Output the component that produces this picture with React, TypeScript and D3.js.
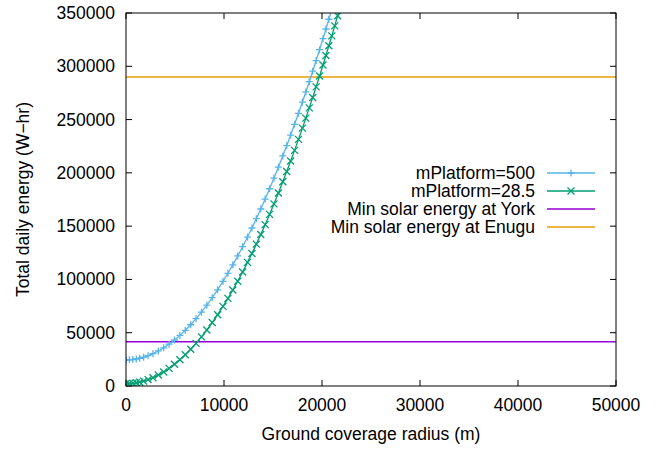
import { useRef, useEffect } from "react"
import * as d3 from "d3"

// ground coverage radius (m) at each sample
const radius = [
    0, 350, 700, 1050, 1400, 1800, 2250, 2750, 3300, 3850,
    4400, 4950, 5500, 6050, 6600, 7150, 7700, 8250, 8800, 9350,
    9900, 10400, 10900, 11400, 11900, 12400, 12850, 13300, 13750, 14200,
    14650, 15100, 15550, 16000, 16400, 16800, 17200, 17600, 18000, 18350,
    18700, 19050, 19400, 19750, 20100, 20400, 20700, 21000, 21300, 21600,
    21900,
]
// total daily energy (W-hr), mPlatform=500
const energy500 = [
    24400, 24540, 24850, 25350, 26030, 27030, 28440, 30350, 32880, 35860,
    39290, 43160, 47490, 52260, 57480, 63150, 69260, 75830, 82840, 90290,
    98200, 105770, 113720, 122030, 130710, 139770, 148240, 157000, 166070, 175430,
    185100, 195060, 205320, 215890, 225530, 235410, 245520, 255870, 266460, 275930,
    285560, 295390, 305390, 315580, 325940, 334970, 344130, 353430, 362860, 372420,
    382110,
]
// total daily energy (W-hr), mPlatform=28.5
const energy285 = [
    2200, 2290, 2560, 3020, 3650, 4600, 5950, 7800, 10260, 13170,
    16530, 20330, 24590, 29290, 34430, 40030, 46070, 52570, 59510, 66890,
    74730, 82240, 90120, 98370, 106990, 115980, 124390, 133100, 142110, 151410,
    161020, 170930, 181130, 191640, 201230, 211060, 221120, 231420, 241960, 251380,
    260970, 270750, 280710, 290850, 301170, 310160, 319280, 328540, 337930, 347450,
    357110,
]
const minYork = 41500
const minEnugu = 290000

const xTicks = [0, 10000, 20000, 30000, 40000, 50000]
const yTicks = [0, 50000, 100000, 150000, 200000, 250000, 300000, 350000]

const seriesNames = ["mPlatform=500", "mPlatform=28.5", "Min solar energy at York", "Min solar energy at Enugu"]
const seriesColors = ["#56b4e9", "#009e73", "#9400d3", "#e69f00"]

export default function App() {
    const svgRef = useRef<SVGSVGElement>(null)
    useEffect(() => {
        const width = 672
        const height = 450
        const fontSize = 17.5
        const svg = d3.select(svgRef.current)
        svg.selectAll("*").remove()
        svg.attr("width", width).attr("height", height)
            .style("display", "block")
            .style("position", "absolute").style("left", "0px").style("top", "0px")
            .style("font-family", "'Liberation Sans', Arial, sans-serif")

        const margin = { top: 13, left: 126, bottom: 64, right: 56 }
        const innerWidth = width - margin.left - margin.right
        const innerHeight = height - margin.top - margin.bottom

        const xScale = d3.scaleLinear().domain([0, 50000]).range([0, innerWidth])
        const yScale = d3.scaleLinear().domain([0, 350000]).range([innerHeight, 0])

        const g = svg.append("g").attr("transform", `translate(${margin.left}, ${margin.top})`)

        g.append("clipPath").attr("id", "plotclip")
            .append("rect").attr("width", innerWidth).attr("height", innerHeight)

        // ticks point inward and are mirrored on top/right
        const tickLen = 6
        xTicks.forEach(t => {
            const x = xScale(t)
            g.append("line").attr("x1", x).attr("x2", x).attr("y1", innerHeight).attr("y2", innerHeight - tickLen)
                .attr("stroke", "#000")
            g.append("line").attr("x1", x).attr("x2", x).attr("y1", 0).attr("y2", tickLen)
                .attr("stroke", "#000")
            g.append("text").text(t).attr("x", x).attr("y", innerHeight + 25)
                .attr("text-anchor", "middle").attr("font-size", fontSize)
        })
        yTicks.forEach(t => {
            const y = yScale(t)
            g.append("line").attr("x1", 0).attr("x2", tickLen).attr("y1", y).attr("y2", y)
                .attr("stroke", "#000")
            g.append("line").attr("x1", innerWidth).attr("x2", innerWidth - tickLen).attr("y1", y).attr("y2", y)
                .attr("stroke", "#000")
            g.append("text").text(t).attr("x", -11).attr("y", y + 6)
                .attr("text-anchor", "end").attr("font-size", fontSize)
        })

        const plot = g.append("g").attr("clip-path", "url(#plotclip)")

        // horizontal reference lines
        ;[minYork, minEnugu].forEach((v, i) => {
            plot.append("line").attr("x1", 0).attr("x2", innerWidth)
                .attr("y1", yScale(v)).attr("y2", yScale(v))
                .attr("stroke", seriesColors[i + 2]).attr("stroke-width", 1.5)
        })

        const line = d3.line<number>()
            .x((_, i) => xScale(radius[i]))
            .y(d => yScale(d))

        const s = 3.5
        const plusPath = `M${-s},0H${s}M0,${-s}V${s}`
        const crossPath = `M${-s},${-s}L${s},${s}M${-s},${s}L${s},${-s}`

        const drawSeries = (values: number[], color: string, markerPath: string) => {
            plot.append("path").datum(values).attr("d", line)
                .attr("fill", "none").attr("stroke", color).attr("stroke-width", 1.3)
            plot.selectAll(null).data(values).enter().append("path")
                .attr("d", markerPath)
                .attr("transform", (d, i) => `translate(${xScale(radius[i])}, ${yScale(d)})`)
                .attr("stroke", color).attr("stroke-width", 1.3).attr("fill", "none")
        }
        drawSeries(energy500, seriesColors[0], plusPath)
        drawSeries(energy285, seriesColors[1], crossPath)

        // border
        g.append("rect").attr("width", innerWidth).attr("height", innerHeight)
            .attr("fill", "none").attr("stroke", "#000").attr("stroke-width", 1)

        // axis titles
        svg.append("text").text("Ground coverage radius (m)")
            .attr("x", margin.left + innerWidth / 2).attr("y", 440)
            .attr("text-anchor", "middle").attr("font-size", fontSize)
        svg.append("text").text("Total daily energy (W\u2212hr)")
            .attr("transform", `translate(29, ${margin.top + innerHeight / 2}) rotate(-90)`)
            .attr("text-anchor", "middle").attr("font-size", fontSize)

        // legend
        const legendTop = 173
        const rowH = 18
        seriesNames.forEach((name, i) => {
            const y = legendTop + i * rowH
            svg.append("text").text(name).attr("x", 535).attr("y", y + 6)
                .attr("text-anchor", "end").attr("font-size", fontSize)
            svg.append("line").attr("x1", 547).attr("x2", 595).attr("y1", y).attr("y2", y)
                .attr("stroke", seriesColors[i]).attr("stroke-width", 1.5)
        })
        svg.append("path").attr("d", plusPath)
            .attr("transform", `translate(571, ${legendTop})`)
            .attr("stroke", seriesColors[0]).attr("stroke-width", 1.3)
        svg.append("path").attr("d", crossPath)
            .attr("transform", `translate(571, ${legendTop + rowH})`)
            .attr("stroke", seriesColors[1]).attr("stroke-width", 1.3)
    }, [])

    return <svg ref={svgRef}></svg>
}
